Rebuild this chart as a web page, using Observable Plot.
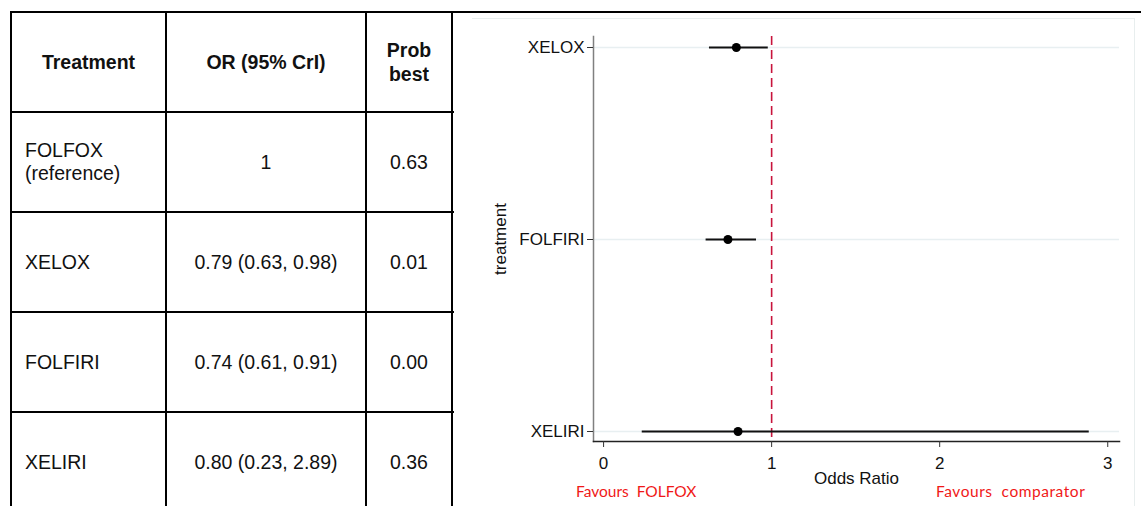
<!DOCTYPE html>
<html>
<head>
<meta charset="utf-8">
<script src="https://cdn.jsdelivr.net/npm/d3@7"></script>
<script src="https://cdn.jsdelivr.net/npm/@observablehq/plot@0.6"></script>
<style>
  html, body { margin: 0; padding: 0; background: #fff; }
  body { width: 1141px; height: 506px; overflow: hidden; position: relative; font-family: "Liberation Sans", Arial, sans-serif; }
  .ln { position: absolute; background: #000; }
  .cell { position: absolute; display: flex; align-items: center; font-size: 19.5px; color: #111; line-height: 23px; }
  .hdr { font-weight: bold; justify-content: center; text-align: center; line-height: 24px; }
  .ctr { justify-content: center; text-align: center; }
  .lft { justify-content: flex-start; padding-left: 14px; box-sizing: border-box; }
  #plot { position: absolute; left: 0; top: 0; }
  .gbox { position: absolute; left: 472px; top: 18px; width: 663px; height: 500px; border-top: 1.5px solid #e8eeee; border-right: 1.5px solid #e8eeee; box-sizing: border-box; }
  .fav { position: absolute; color: #f01818; font-family: Lato, "Open Sans", sans-serif; font-size: 15.5px; white-space: pre; }
</style>
</head>
<body>
<div class="gbox"></div>
<div id="plot"></div>
<div id="table"></div>
<div class="fav" id="favL" style="left:576px; top:482px;"></div>
<div class="fav" id="favR" style="left:936px; top:482px; letter-spacing:0.55px;"></div>
<script>
// ---- Data ----
const tableHeaders = ["Treatment", "OR (95% CrI)", "Prob\nbest"];
const tableTreatments = ["FOLFOX\n(reference)", "XELOX", "FOLFIRI", "XELIRI"];
const tableOR = ["1", "0.79 (0.63, 0.98)", "0.74 (0.61, 0.91)", "0.80 (0.23, 2.89)"];
const tableProbBest = ["0.63", "0.01", "0.00", "0.36"];

const plotTreatments = ["XELOX", "FOLFIRI", "XELIRI"];
const oddsRatio = [0.79, 0.74, 0.80];
const lower = [0.63, 0.61, 0.23];
const upper = [0.98, 0.91, 2.89];
const xTicks = [0, 1, 2, 3];
const referenceOR = [1];
const favoursLabels = ["Favours  FOLFOX", "Favours  comparator"];

// ---- Table layout ----
const colX = [11, 166, 366, 452];
const rowY = [12, 112, 212, 312, 412, 512];
const tbl = document.getElementById("table");
function line(l, t, w, h) {
  const d = document.createElement("div");
  d.className = "ln";
  d.style.left = l + "px"; d.style.top = t + "px";
  d.style.width = w + "px"; d.style.height = h + "px";
  tbl.appendChild(d);
}
colX.forEach(x => line(x - 1, 12, 2, 500));
line(10, 11, 1131, 2);
rowY.slice(1, 5).forEach(y => line(10, y - 1, 444, 2));

function cell(text, c, r, cls) {
  const d = document.createElement("div");
  d.className = "cell " + cls;
  d.style.left = colX[c] + "px";
  d.style.top = rowY[r] + "px";
  d.style.width = (colX[c + 1] - colX[c]) + "px";
  d.style.height = (rowY[r + 1] - rowY[r]) + "px";
  d.innerHTML = text.split("\n").join("<br>");
  tbl.appendChild(d);
}
tableHeaders.forEach((h, i) => cell(h, i, 0, "hdr"));
tableTreatments.forEach((t, i) => {
  cell(t, 0, i + 1, "lft");
  cell(tableOR[i], 1, i + 1, "ctr");
  cell(tableProbBest[i], 2, i + 1, "ctr");
});

document.getElementById("favL").textContent = favoursLabels[0];
document.getElementById("favR").textContent = favoursLabels[1];

// ---- Forest plot ----
const rows = plotTreatments.map((t, i) => ({treatment: t, or: oddsRatio[i], lo: lower[i], hi: upper[i]}));

const chart = Plot.plot({
  width: 1141,
  height: 506,
  marginLeft: 593,
  marginRight: 22,
  marginTop: 36,
  marginBottom: 65,
  style: {fontFamily: '"Liberation Sans", Arial, sans-serif', fontSize: "17px", color: "#111", background: "transparent", overflow: "visible"},
  x: {domain: [-0.06, 3.07]},
  y: {type: "point", domain: plotTreatments, range: [47, 431], padding: 0},
  marks: [
    Plot.ruleY(plotTreatments, {stroke: "#e8eff1", strokeWidth: 1.5}),
    Plot.frame({anchor: "left", stroke: "#808080", strokeWidth: 1.5}),
    Plot.frame({anchor: "bottom", stroke: "#222", strokeWidth: 1.5}),
    Plot.ruleX(referenceOR, {stroke: "#c8143c", strokeWidth: 1.6, strokeDasharray: "9,5"}),
    Plot.ruleY(rows, {y: "treatment", x1: "lo", x2: "hi", stroke: "#111", strokeWidth: 2}),
    Plot.dot(rows, {x: "or", y: "treatment", r: 4.5, fill: "#000", stroke: null}),
    Plot.axisY({tickSize: 6, tickPadding: 3, stroke: "#333", label: "treatment", labelAnchor: "center", labelOffset: 100, labelArrow: "none"}),
    Plot.axisX({ticks: xTicks, tickFormat: d3.format("d"), tickSize: 6, tickPadding: 9, stroke: "#333", label: "Odds Ratio", labelAnchor: "center", labelOffset: 42, labelArrow: "none"})
  ]
});
document.getElementById("plot").appendChild(chart);
</script>
</body>
</html>
